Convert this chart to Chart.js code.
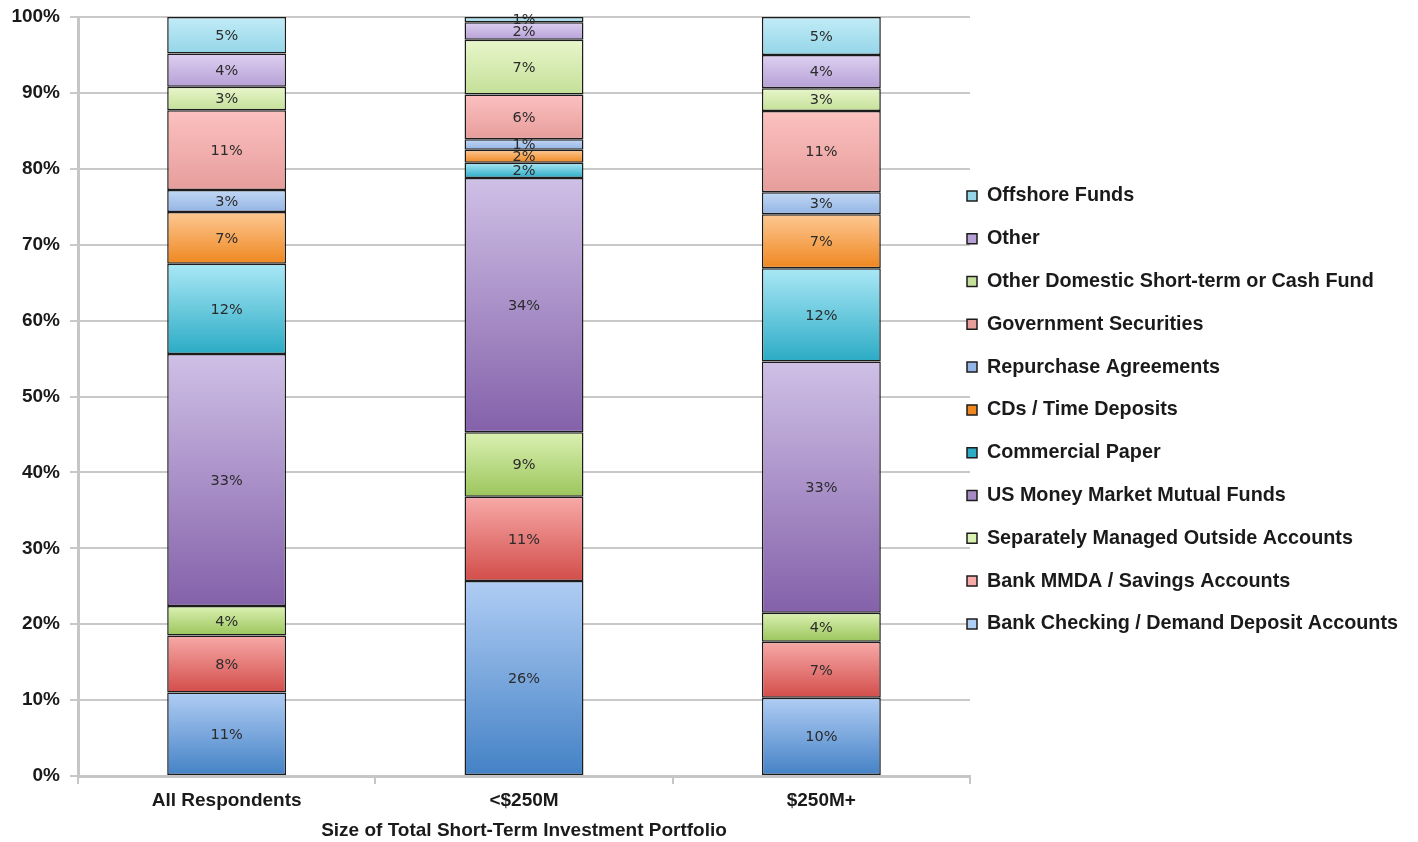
<!DOCTYPE html>
<html>
<head>
<meta charset="utf-8">
<script src="https://cdn.jsdelivr.net/npm/chart.js@4.4.1/dist/chart.umd.min.js"></script>
<style>
  html, body { margin: 0; padding: 0; background: #ffffff; }
  #wrap { position: relative; width: 1418px; height: 842px; }
</style>
</head>
<body>
<div id="wrap"><canvas id="c" width="1418" height="842"></canvas></div>
<script>
// ---- data ----
const categories = ['All Respondents', '<$250M', '$250M+'];
const seriesNames = [
  'Bank Checking / Demand Deposit Accounts',
  'Bank MMDA / Savings Accounts',
  'Separately Managed Outside Accounts',
  'US Money Market Mutual Funds',
  'Commercial Paper',
  'CDs / Time Deposits',
  'Repurchase Agreements',
  'Government Securities',
  'Other Domestic Short-term or Cash Fund',
  'Other',
  'Offshore Funds'
];
const bankChecking   = [11.0, 25.7, 10.3];
const bankMMDA       = [7.5, 11.1, 7.4];
const separatelyMgd  = [3.9, 8.5, 3.8];
const usMoneyMarket  = [33.2, 33.5, 33.1];
const commercialPaper= [11.9, 2.0, 12.3];
const cdsTimeDep     = [6.8, 1.7, 7.1];
const repurchase     = [2.9, 1.4, 2.9];
const govSecurities  = [10.5, 5.9, 10.7];
const otherDomestic  = [3.1, 7.2, 3.0];
const otherFunds     = [4.4, 2.3, 4.4];
const offshoreFunds  = [4.8, 0.7, 5.0];
const seriesValues = [bankChecking, bankMMDA, separatelyMgd, usMoneyMarket, commercialPaper,
  cdsTimeDep, repurchase, govSecurities, otherDomestic, otherFunds, offshoreFunds];
const yTicks = [0, 10, 20, 30, 40, 50, 60, 70, 80, 90, 100];
const xTitle = 'Size of Total Short-Term Investment Portfolio';

// ---- styles (top, bottom, legend) ----
const palette = [
  ['#b0cdf4', '#4381c5', '#5b90d0'],
  ['#f7aaa8', '#d24d4a', '#e06562'],
  ['#dbf1b2', '#9bc55c', '#b0d47a'],
  ['#cfc0e6', '#8461aa', '#9d80c0'],
  ['#aae8f6', '#2babc5', '#4cbfd6'],
  ['#fdc893', '#ef8720', '#f59f48'],
  ['#c2d8f5', '#93b4e4', '#a6c3ea'],
  ['#fcc1c0', '#e69d9b', '#f0adab'],
  ['#e8f6cb', '#c4e098', '#d3eaae'],
  ['#ded0f1', '#b6a0d6', '#c6b5e1'],
  ['#c2ecf7', '#94d5e8', '#a8dfee']
];

const FONT = "'Liberation Sans', Arial, Helvetica, sans-serif";

const datasets = seriesNames.map((name, i) => ({
  label: name,
  data: seriesValues[i],
  borderColor: '#1c1c1c',
  borderWidth: 1.5,
  borderSkipped: false,
  backgroundColor: (c) => {
    const p = palette[i];
    if (c.type !== 'data' || !c.chart.chartArea || !c.chart.scales.y) return p[2];
    const chart = c.chart;
    let start = 0;
    for (let k = 0; k < c.datasetIndex; k++) start += chart.data.datasets[k].data[c.dataIndex];
    const end = start + chart.data.datasets[c.datasetIndex].data[c.dataIndex];
    const yTop = chart.scales.y.getPixelForValue(end);
    const yBot = chart.scales.y.getPixelForValue(start);
    if (!isFinite(yTop) || !isFinite(yBot) || yTop === yBot) return p[2];
    const g = chart.ctx.createLinearGradient(0, yTop, 0, yBot);
    g.addColorStop(0, p[0]);
    g.addColorStop(1, p[1]);
    return g;
  }
}));

const segmentLabels = {
  id: 'segmentLabels',
  afterDatasetsDraw(chart) {
    const ctx = chart.ctx;
    ctx.save();
    ctx.font = "14.5px 'DejaVu Sans', Verdana, sans-serif";
    ctx.fillStyle = '#2b2b2b';
    ctx.textAlign = 'center';
    ctx.textBaseline = 'middle';
    chart.data.datasets.forEach((ds, di) => {
      const meta = chart.getDatasetMeta(di);
      meta.data.forEach((el, j) => {
        const v = ds.data[j];
        const y = (el.y + el.base) / 2;
        ctx.fillText(Math.round(v) + '%', el.x, y + 1);
      });
    });
    ctx.restore();
  }
};

const legendPlacer = {
  id: 'legendPlacer',
  afterLayout(chart) {
    const lg = chart.legend;
    if (!lg) return;
    const pad = lg.options.labels.padding;
    lg.left = chart.chartArea.right - 3 - pad;
    lg.right = chart.width;
    const h = lg.bottom - lg.top;
    lg.top = 163;
    lg.bottom = lg.top + h;
  }
};

new Chart(document.getElementById('c'), {
  type: 'bar',
  data: { labels: categories, datasets },
  plugins: [segmentLabels, legendPlacer],
  options: {
    responsive: false,
    animation: false,
    layout: { padding: { top: 17, bottom: 0, left: 0, right: 0 } },
    datasets: { bar: { barPercentage: 0.4, categoryPercentage: 1.0 } },
    plugins: {
      tooltip: { enabled: false },
      legend: {
        position: 'right',
        align: 'start',
        reverse: true,
        maxWidth: 448,
        labels: {
          boxWidth: 10,
          boxHeight: 10,
          padding: 23,
          color: '#1a1a1a',
          font: { family: FONT, size: 19.8, weight: 'bold' }
        }
      }
    },
    scales: {
      x: {
        stacked: true,
        afterFit: (s) => { s.height = 66; s.paddingLeft = 0; s.paddingRight = 0; },
        grid: {
          offset: true,
          drawOnChartArea: false,
          drawTicks: true,
          tickLength: 8,
          color: '#c6c6c6',
          lineWidth: 2
        },
        border: { display: true, color: '#c6c6c6', width: 3 },
        ticks: {
          color: '#1a1a1a',
          padding: 5,
          font: { family: FONT, size: 19, weight: 'bold' }
        },
        title: {
          display: true,
          text: xTitle,
          color: '#1a1a1a',
          padding: { top: 0, bottom: 0 },
          font: { family: FONT, size: 19, weight: 'bold' }
        }
      },
      y: {
        stacked: true,
        min: 0,
        max: 100,
        afterFit: (s) => { s.width = 78; s.paddingTop = 0; s.paddingBottom = 0; },
        afterBuildTicks: (s) => { s.ticks = yTicks.map(v => ({ value: v })); },
        grid: {
          color: '#c9c9c9',
          lineWidth: 2,
          tickLength: 8,
          drawTicks: true
        },
        border: { display: true, color: '#c6c6c6', width: 3 },
        ticks: {
          color: '#1a1a1a',
          padding: 10,
          font: { family: FONT, size: 19, weight: 'bold' },
          callback: (v) => v + '%'
        }
      }
    }
  }
});
</script>
</body>
</html>
